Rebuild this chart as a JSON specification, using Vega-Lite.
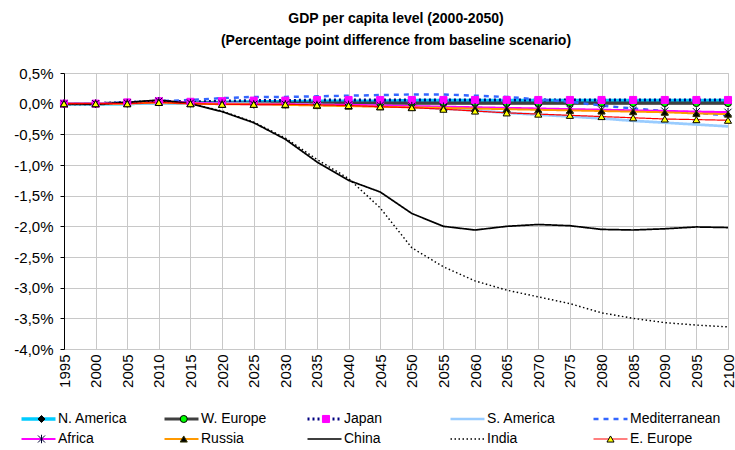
{
"$schema":"https://vega.github.io/schema/vega-lite/v6.json",
"autosize":"none","width":664,"height":276,
"padding":{"left":64,"top":73,"right":7,"bottom":101},
"background":"white",
"config":{"locale":{"number":{"decimal":",","thousands":".","grouping":[3],"currency":["","€"],"minus":"-"}},"view":{"stroke":"#c8c8c8","strokeWidth":1},"font":"Liberation Sans"},
"title":{"text":["GDP per capita level (2000-2050)","(Percentage point difference from baseline scenario)"],"font":"Liberation Sans","fontSize":14,"fontWeight":"bold","color":"#000","anchor":"middle","frame":"group","offset":18,"lineHeight":22},
"data":{"values":[
{"year":1995,"series":"N. America","value":0},{"year":2000,"series":"N. America","value":0},{"year":2005,"series":"N. America","value":0},{"year":2010,"series":"N. America","value":0.02},{"year":2015,"series":"N. America","value":0.01},{"year":2020,"series":"N. America","value":0.02},{"year":2025,"series":"N. America","value":0.03},{"year":2030,"series":"N. America","value":0.03},{"year":2035,"series":"N. America","value":0.04},{"year":2040,"series":"N. America","value":0.04},{"year":2045,"series":"N. America","value":0.04},{"year":2050,"series":"N. America","value":0.05},{"year":2055,"series":"N. America","value":0.05},{"year":2060,"series":"N. America","value":0.05},{"year":2065,"series":"N. America","value":0.05},{"year":2070,"series":"N. America","value":0.05},{"year":2075,"series":"N. America","value":0.05},{"year":2080,"series":"N. America","value":0.05},{"year":2085,"series":"N. America","value":0.05},{"year":2090,"series":"N. America","value":0.05},{"year":2095,"series":"N. America","value":0.05},{"year":2100,"series":"N. America","value":0.05},
{"year":1995,"series":"W. Europe","value":0},{"year":2000,"series":"W. Europe","value":0},{"year":2005,"series":"W. Europe","value":0.01},{"year":2010,"series":"W. Europe","value":0.03},{"year":2015,"series":"W. Europe","value":0.01},{"year":2020,"series":"W. Europe","value":0.01},{"year":2025,"series":"W. Europe","value":0.01},{"year":2030,"series":"W. Europe","value":0.01},{"year":2035,"series":"W. Europe","value":0.01},{"year":2040,"series":"W. Europe","value":0.01},{"year":2045,"series":"W. Europe","value":0.01},{"year":2050,"series":"W. Europe","value":0.01},{"year":2055,"series":"W. Europe","value":0.01},{"year":2060,"series":"W. Europe","value":0.01},{"year":2065,"series":"W. Europe","value":0.01},{"year":2070,"series":"W. Europe","value":0.01},{"year":2075,"series":"W. Europe","value":0.01},{"year":2080,"series":"W. Europe","value":0.01},{"year":2085,"series":"W. Europe","value":0.01},{"year":2090,"series":"W. Europe","value":0.01},{"year":2095,"series":"W. Europe","value":0.01},{"year":2100,"series":"W. Europe","value":0.01},
{"year":1995,"series":"Japan","value":0},{"year":2000,"series":"Japan","value":0},{"year":2005,"series":"Japan","value":0.02},{"year":2010,"series":"Japan","value":0.04},{"year":2015,"series":"Japan","value":0.03},{"year":2020,"series":"Japan","value":0.04},{"year":2025,"series":"Japan","value":0.05},{"year":2030,"series":"Japan","value":0.05},{"year":2035,"series":"Japan","value":0.06},{"year":2040,"series":"Japan","value":0.06},{"year":2045,"series":"Japan","value":0.06},{"year":2050,"series":"Japan","value":0.06},{"year":2055,"series":"Japan","value":0.06},{"year":2060,"series":"Japan","value":0.06},{"year":2065,"series":"Japan","value":0.06},{"year":2070,"series":"Japan","value":0.06},{"year":2075,"series":"Japan","value":0.06},{"year":2080,"series":"Japan","value":0.06},{"year":2085,"series":"Japan","value":0.06},{"year":2090,"series":"Japan","value":0.06},{"year":2095,"series":"Japan","value":0.06},{"year":2100,"series":"Japan","value":0.06},
{"year":1995,"series":"S. America","value":0},{"year":2000,"series":"S. America","value":0},{"year":2005,"series":"S. America","value":0},{"year":2010,"series":"S. America","value":0.01},{"year":2015,"series":"S. America","value":0},{"year":2020,"series":"S. America","value":0},{"year":2025,"series":"S. America","value":0},{"year":2030,"series":"S. America","value":-0.01},{"year":2035,"series":"S. America","value":-0.02},{"year":2040,"series":"S. America","value":-0.03},{"year":2045,"series":"S. America","value":-0.04},{"year":2050,"series":"S. America","value":-0.05},{"year":2055,"series":"S. America","value":-0.08},{"year":2060,"series":"S. America","value":-0.11},{"year":2065,"series":"S. America","value":-0.15},{"year":2070,"series":"S. America","value":-0.18},{"year":2075,"series":"S. America","value":-0.21},{"year":2080,"series":"S. America","value":-0.24},{"year":2085,"series":"S. America","value":-0.28},{"year":2090,"series":"S. America","value":-0.31},{"year":2095,"series":"S. America","value":-0.34},{"year":2100,"series":"S. America","value":-0.37},
{"year":1995,"series":"Mediterranean","value":0},{"year":2000,"series":"Mediterranean","value":0},{"year":2005,"series":"Mediterranean","value":0.02},{"year":2010,"series":"Mediterranean","value":0.04},{"year":2015,"series":"Mediterranean","value":0.06},{"year":2020,"series":"Mediterranean","value":0.09},{"year":2025,"series":"Mediterranean","value":0.11},{"year":2030,"series":"Mediterranean","value":0.11},{"year":2035,"series":"Mediterranean","value":0.12},{"year":2040,"series":"Mediterranean","value":0.13},{"year":2045,"series":"Mediterranean","value":0.14},{"year":2050,"series":"Mediterranean","value":0.15},{"year":2055,"series":"Mediterranean","value":0.15},{"year":2060,"series":"Mediterranean","value":0.13},{"year":2065,"series":"Mediterranean","value":0.11},{"year":2070,"series":"Mediterranean","value":0.07},{"year":2075,"series":"Mediterranean","value":0.03},{"year":2080,"series":"Mediterranean","value":-0.03},{"year":2085,"series":"Mediterranean","value":-0.08},{"year":2090,"series":"Mediterranean","value":-0.12},{"year":2095,"series":"Mediterranean","value":-0.15},{"year":2100,"series":"Mediterranean","value":-0.19},
{"year":1995,"series":"Africa","value":0},{"year":2000,"series":"Africa","value":0},{"year":2005,"series":"Africa","value":0.01},{"year":2010,"series":"Africa","value":0.04},{"year":2015,"series":"Africa","value":0.01},{"year":2020,"series":"Africa","value":0},{"year":2025,"series":"Africa","value":-0.01},{"year":2030,"series":"Africa","value":-0.01},{"year":2035,"series":"Africa","value":-0.02},{"year":2040,"series":"Africa","value":-0.02},{"year":2045,"series":"Africa","value":-0.03},{"year":2050,"series":"Africa","value":-0.04},{"year":2055,"series":"Africa","value":-0.05},{"year":2060,"series":"Africa","value":-0.06},{"year":2065,"series":"Africa","value":-0.07},{"year":2070,"series":"Africa","value":-0.08},{"year":2075,"series":"Africa","value":-0.09},{"year":2080,"series":"Africa","value":-0.1},{"year":2085,"series":"Africa","value":-0.11},{"year":2090,"series":"Africa","value":-0.12},{"year":2095,"series":"Africa","value":-0.13},{"year":2100,"series":"Africa","value":-0.14},
{"year":1995,"series":"Russia","value":0},{"year":2000,"series":"Russia","value":0},{"year":2005,"series":"Russia","value":0},{"year":2010,"series":"Russia","value":0.02},{"year":2015,"series":"Russia","value":0},{"year":2020,"series":"Russia","value":-0.01},{"year":2025,"series":"Russia","value":-0.01},{"year":2030,"series":"Russia","value":-0.02},{"year":2035,"series":"Russia","value":-0.03},{"year":2040,"series":"Russia","value":-0.04},{"year":2045,"series":"Russia","value":-0.05},{"year":2050,"series":"Russia","value":-0.06},{"year":2055,"series":"Russia","value":-0.07},{"year":2060,"series":"Russia","value":-0.08},{"year":2065,"series":"Russia","value":-0.09},{"year":2070,"series":"Russia","value":-0.1},{"year":2075,"series":"Russia","value":-0.11},{"year":2080,"series":"Russia","value":-0.12},{"year":2085,"series":"Russia","value":-0.13},{"year":2090,"series":"Russia","value":-0.14},{"year":2095,"series":"Russia","value":-0.16},{"year":2100,"series":"Russia","value":-0.17},
{"year":1995,"series":"China","value":0},{"year":2000,"series":"China","value":-0.01},{"year":2005,"series":"China","value":0.02},{"year":2010,"series":"China","value":0.06},{"year":2015,"series":"China","value":0},{"year":2020,"series":"China","value":-0.13},{"year":2025,"series":"China","value":-0.31},{"year":2030,"series":"China","value":-0.58},{"year":2035,"series":"China","value":-0.95},{"year":2040,"series":"China","value":-1.25},{"year":2045,"series":"China","value":-1.44},{"year":2050,"series":"China","value":-1.79},{"year":2055,"series":"China","value":-2},{"year":2060,"series":"China","value":-2.06},{"year":2065,"series":"China","value":-2},{"year":2070,"series":"China","value":-1.97},{"year":2075,"series":"China","value":-1.99},{"year":2080,"series":"China","value":-2.05},{"year":2085,"series":"China","value":-2.06},{"year":2090,"series":"China","value":-2.04},{"year":2095,"series":"China","value":-2.01},{"year":2100,"series":"China","value":-2.02},
{"year":1995,"series":"India","value":0},{"year":2000,"series":"India","value":-0.01},{"year":2005,"series":"India","value":0.02},{"year":2010,"series":"India","value":0.05},{"year":2015,"series":"India","value":0},{"year":2020,"series":"India","value":-0.12},{"year":2025,"series":"India","value":-0.3},{"year":2030,"series":"India","value":-0.56},{"year":2035,"series":"India","value":-0.91},{"year":2040,"series":"India","value":-1.22},{"year":2045,"series":"India","value":-1.7},{"year":2050,"series":"India","value":-2.35},{"year":2055,"series":"India","value":-2.66},{"year":2060,"series":"India","value":-2.89},{"year":2065,"series":"India","value":-3.04},{"year":2070,"series":"India","value":-3.15},{"year":2075,"series":"India","value":-3.26},{"year":2080,"series":"India","value":-3.41},{"year":2085,"series":"India","value":-3.5},{"year":2090,"series":"India","value":-3.57},{"year":2095,"series":"India","value":-3.61},{"year":2100,"series":"India","value":-3.64},
{"year":1995,"series":"E. Europe","value":0},{"year":2000,"series":"E. Europe","value":0},{"year":2005,"series":"E. Europe","value":0},{"year":2010,"series":"E. Europe","value":0.02},{"year":2015,"series":"E. Europe","value":0},{"year":2020,"series":"E. Europe","value":-0.01},{"year":2025,"series":"E. Europe","value":-0.01},{"year":2030,"series":"E. Europe","value":-0.01},{"year":2035,"series":"E. Europe","value":-0.02},{"year":2040,"series":"E. Europe","value":-0.03},{"year":2045,"series":"E. Europe","value":-0.05},{"year":2050,"series":"E. Europe","value":-0.065},{"year":2055,"series":"E. Europe","value":-0.09},{"year":2060,"series":"E. Europe","value":-0.12},{"year":2065,"series":"E. Europe","value":-0.15},{"year":2070,"series":"E. Europe","value":-0.17},{"year":2075,"series":"E. Europe","value":-0.19},{"year":2080,"series":"E. Europe","value":-0.21},{"year":2085,"series":"E. Europe","value":-0.23},{"year":2090,"series":"E. Europe","value":-0.25},{"year":2095,"series":"E. Europe","value":-0.26},{"year":2100,"series":"E. Europe","value":-0.27}
]},
"encoding":{
"x":{"field":"year","type":"quantitative","scale":{"domain":[1995,2100],"nice":false,"zero":false},
"axis":{"title":null,"values":[1995,2000,2005,2010,2015,2020,2025,2030,2035,2040,2045,2050,2055,2060,2065,2070,2075,2080,2085,2090,2095,2100],"format":"d","labelAngle":-90,"labelFont":"Liberation Sans","labelFontSize":15,"labelColor":"#000","labelPadding":5,"ticks":false,"domain":false,"grid":true,"gridColor":"#c8c8c8","gridWidth":1,"labelOverlap":false,"labelFlush":false}},
"y":{"field":"value","type":"quantitative","scale":{"domain":[-4,0.5],"nice":false,"zero":false},
"axis":{"title":null,"values":[-4,-3.5,-3,-2.5,-2,-1.5,-1,-0.5,0,0.5],"format":".1f","labelExpr":"datum.label + '%'","labelFont":"Liberation Sans","labelFontSize":15,"labelColor":"#000","labelPadding":7,"tickSize":4,"tickColor":"#000","domainColor":"#000","grid":true,"gridColor":"#c8c8c8","gridWidth":1,"labelOverlap":false,"labelFlush":false}}
},
"layer":[
{"mark":{"type":"line","strokeJoin":"round"},
"encoding":{
"color":{"field":"series","type":"nominal","scale":{"domain":["N. America","W. Europe","Japan","S. America","Mediterranean","Africa","Russia","China","India","E. Europe"],"range":["#00ccff","#404040","#000080","#99ccff","#3366ff","#ff00ff","#ff9900","#000000","#000000","#ff0000"]},
"legend":{"title":null,"orient":"none","legendX":-43,"legendY":336,"direction":"horizontal","columns":5,"gridAlign":"all","columnPadding":15,"rowPadding":0,"padding":0,"clipHeight":20,"symbolType":"M-2,0H2","symbolSize":289,"symbolOffset":7,"labelOffset":9,"labelFont":"Liberation Sans","labelFontSize":14,"labelColor":"#000","labelLimit":200,"symbolFillColor":"transparent"}},
"strokeDash":{"field":"series","type":"nominal","scale":{"domain":["N. America","W. Europe","Japan","S. America","Mediterranean","Africa","Russia","China","India","E. Europe"],"range":[[1,0],[1,0],[2,3],[1,0],[5,5],[1,0],[1,0],[1,0],[1.5,2.5],[1,0]]},
"legend":{"title":null,"orient":"none","legendX":-43,"legendY":336,"direction":"horizontal","columns":5,"gridAlign":"all","columnPadding":15,"rowPadding":0,"padding":0,"clipHeight":20,"symbolType":"M-2,0H2","symbolSize":289,"symbolOffset":7,"labelOffset":9,"labelFont":"Liberation Sans","labelFontSize":14,"labelColor":"#000","labelLimit":200}},
"strokeWidth":{"field":"series","type":"nominal","scale":{"domain":["N. America","W. Europe","Japan","S. America","Mediterranean","Africa","Russia","China","India","E. Europe"],"range":[3.5,1.2,2,4,3,1,1,1,1.5,1]},
"legend":{"title":null,"orient":"none","legendX":-43,"legendY":336,"direction":"horizontal","columns":5,"gridAlign":"all","columnPadding":15,"rowPadding":0,"padding":0,"clipHeight":20,"symbolType":"M-2,0H2","symbolSize":289,"symbolOffset":7,"labelOffset":9,"labelFont":"Liberation Sans","labelFontSize":14,"labelColor":"#000","labelLimit":200}}
}},
{"mark":{"type":"point","filled":true,"opacity":1,"size":50,"strokeWidth":1},
"encoding":{
"shape":{"field":"series","type":"nominal","scale":{"domain":["E. Europe","India","China","Russia","Africa","Mediterranean","S. America","Japan","W. Europe","N. America"],"range":["triangle-up","M0,0","M0,0","triangle-up","M-1,-1L1,1M-1,1L1,-1M0,-1.2L0,1.2","M0,0","M0,0","square","circle","diamond"]},
"legend":{"title":null,"values":["N. America","W. Europe","Japan","S. America","Mediterranean","Africa","Russia","China","India","E. Europe"],"orient":"none","legendX":-39.5,"legendY":336,"direction":"horizontal","columns":5,"gridAlign":"all","columnPadding":115.25,"rowPadding":0,"padding":0,"clipHeight":20,"symbolSize":50,"symbolStrokeWidth":1,"symbolOffset":10,"labelOffset":3,"labelExpr":"' '","labelFont":"Liberation Sans","labelFontSize":14,"labelOpacity":0,"labelLimit":200}},
"fill":{"field":"series","type":"nominal","scale":{"domain":["E. Europe","India","China","Russia","Africa","Mediterranean","S. America","Japan","W. Europe","N. America"],"range":["#ffff00","transparent","transparent","#000000","transparent","transparent","transparent","#ff00ff","#00ff00","#000000"]},
"legend":{"title":null,"values":["N. America","W. Europe","Japan","S. America","Mediterranean","Africa","Russia","China","India","E. Europe"],"orient":"none","legendX":-39.5,"legendY":336,"direction":"horizontal","columns":5,"gridAlign":"all","columnPadding":115.25,"rowPadding":0,"padding":0,"clipHeight":20,"symbolSize":50,"symbolStrokeWidth":1,"symbolOffset":10,"labelOffset":3,"labelExpr":"' '","labelFont":"Liberation Sans","labelFontSize":14,"labelOpacity":0,"labelLimit":200}},
"stroke":{"field":"series","type":"nominal","scale":{"domain":["E. Europe","India","China","Russia","Africa","Mediterranean","S. America","Japan","W. Europe","N. America"],"range":["#000000","transparent","transparent","#333300","#000033","transparent","transparent","#ff00ff","#000000","#000000"]},
"legend":{"title":null,"values":["N. America","W. Europe","Japan","S. America","Mediterranean","Africa","Russia","China","India","E. Europe"],"orient":"none","legendX":-39.5,"legendY":336,"direction":"horizontal","columns":5,"gridAlign":"all","columnPadding":115.25,"rowPadding":0,"padding":0,"clipHeight":20,"symbolSize":50,"symbolStrokeWidth":1,"symbolOffset":10,"labelOffset":3,"labelExpr":"' '","labelFont":"Liberation Sans","labelFontSize":14,"labelOpacity":0,"labelLimit":200}}
}}
]
}
